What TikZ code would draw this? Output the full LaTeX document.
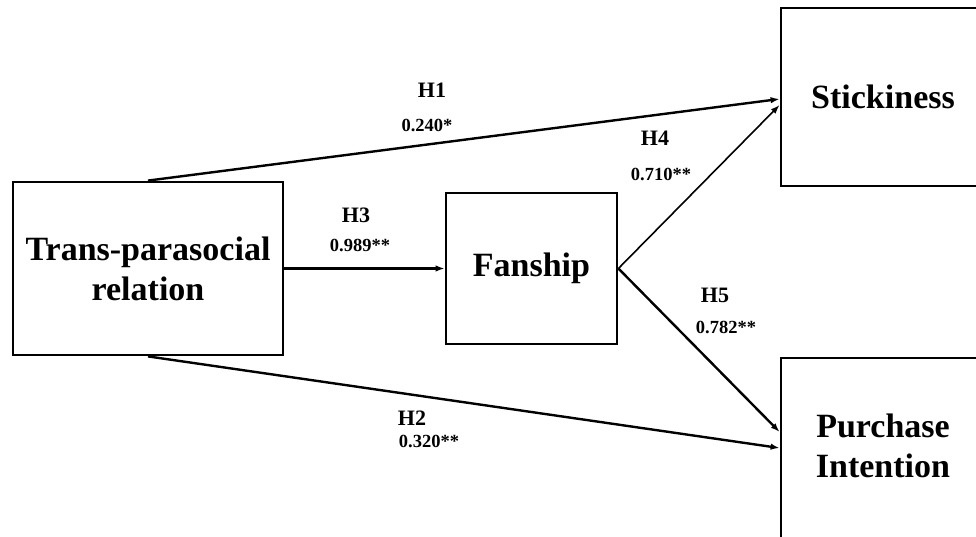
\documentclass[tikz,border=0pt]{standalone}
\usepackage{fontspec}
\setmainfont{Liberation Serif}
\usetikzlibrary{arrows.meta,calc}
\begin{document}
\begin{tikzpicture}[x=1pt,y=-1pt,
  box/.style={draw,line width=2.8pt,rectangle,inner sep=0pt,align=center,font=\fontsize{34}{40}\selectfont\bfseries},
  txt/.style={align=center,inner sep=0pt,font=\fontsize{34}{40}\selectfont\bfseries},
  hyp/.style={inner sep=0pt,font=\fontsize{22}{24}\selectfont\bfseries},
  coef/.style={inner sep=0pt,font=\fontsize{18.5}{20}\selectfont\bfseries},
  arr/.style={line width=2.4pt,-{Latex[length=9pt,width=6.5pt]}},
  arrthin/.style={line width=1.6pt,-{Latex[length=9pt,width=6.5pt]}}]
\useasboundingbox (0,0) rectangle (976,537);
\fill[white] (0,0) rectangle (976,537);
\clip (0,0) rectangle (976,537);
\node[box,minimum width=270pt,minimum height=173pt] (trans) at (148,268.5) {Trans-parasocial\\relation};
\node[box,minimum width=171pt,minimum height=151pt] (fan) at (531.5,268.5) {Fanship};
\node[box,minimum width=204pt,minimum height=178pt] (stick) at (883,97) {Stickiness};
\node[box,minimum width=204pt,minimum height=202pt] (purch) at (883,459) {};
\node[txt] (purchtxt) at (883,446) {Purchase\\Intention};
\draw[arr] (trans.north) -- ($(stick.west)+(0,2)$);
\draw[arr] (trans.east) -- (fan.west);
\draw[arr] (trans.south) -- ($(purch.west)+(0,-11)$);
\draw[arrthin] (fan.east) -- ($(stick.west)+(0,8)$);
\draw[arr] (fan.east) -- ($(purch.west)+(0,-27)$);
\node[hyp] (h1) at (432,90) {H1};
\node[coef] (c1) at (427,125) {0.240*};
\node[hyp] (h3) at (356,215) {H3};
\node[coef] (c3) at (360,245) {0.989**};
\node[hyp] (h4) at (655,138) {H4};
\node[coef] (c4) at (661,174) {0.710**};
\node[hyp] (h5) at (715,295) {H5};
\node[coef] (c5) at (726,327) {0.782**};
\node[hyp] (h2) at (412,418) {H2};
\node[coef] (c2) at (429,441) {0.320**};
\end{tikzpicture}
\end{document}
